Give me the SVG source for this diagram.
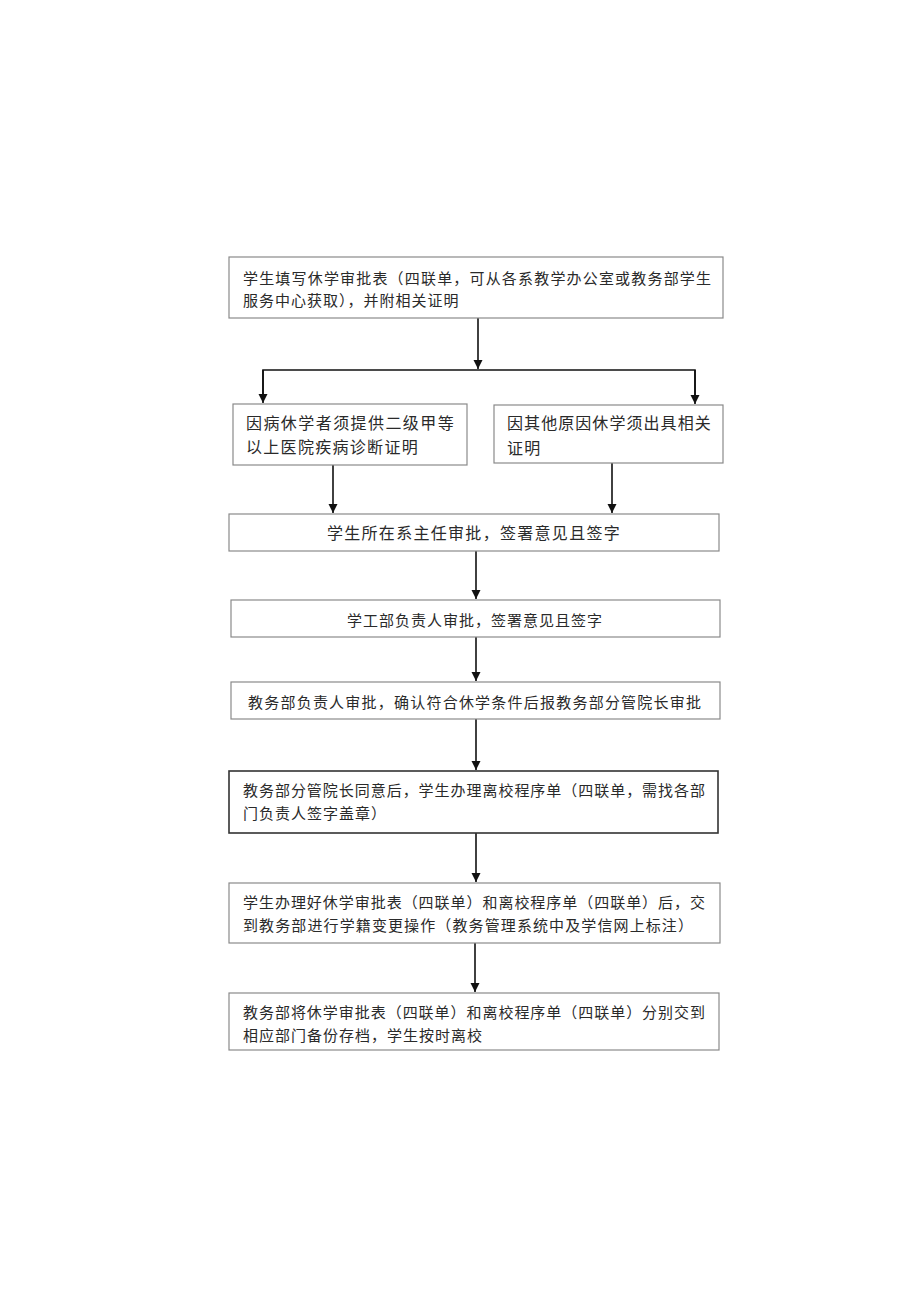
<svg xmlns="http://www.w3.org/2000/svg" width="920" height="1301" viewBox="0 0 920 1301">
<style>
.box{fill:#fff;stroke:#8a8a8a;stroke-width:1.2}
.dark{fill:#fff;stroke:#333;stroke-width:1.6}
.t{font-family:"Noto Sans CJK SC","Noto Sans CJK TC",sans-serif;font-size:15px;fill:#2a2a2a;letter-spacing:1px}
.t2{font-family:"Noto Sans CJK SC","Noto Sans CJK TC",sans-serif;font-size:16px;fill:#2a2a2a;letter-spacing:1.3px}
.c{text-anchor:middle}
.ln{fill:none;stroke:#111;stroke-width:1.6}
</style>
<defs>
<marker id="ah" markerUnits="userSpaceOnUse" markerWidth="10" markerHeight="10" refX="9" refY="5" orient="auto">
<path d="M0,0.5 L9,5 L0,9.5 Z" fill="#111"/>
</marker>
</defs>
<rect width="920" height="1301" fill="#fff"/>
<g id="connectors">
<line class="ln" x1="478" y1="318" x2="478" y2="369" marker-end="url(#ah)"/>
<polyline class="ln" points="263,400 263,370 695,370 695,400"/>
<line class="ln" x1="263" y1="370" x2="263" y2="403" marker-end="url(#ah)"/>
<line class="ln" x1="695" y1="370" x2="695" y2="404" marker-end="url(#ah)"/>
<line class="ln" x1="333" y1="465" x2="333" y2="513" marker-end="url(#ah)"/>
<line class="ln" x1="612" y1="463" x2="612" y2="513" marker-end="url(#ah)"/>
<line class="ln" x1="476" y1="551" x2="476" y2="599" marker-end="url(#ah)"/>
<line class="ln" x1="476" y1="637" x2="476" y2="681" marker-end="url(#ah)"/>
<line class="ln" x1="476" y1="719" x2="476" y2="770" marker-end="url(#ah)"/>
<line class="ln" x1="476" y1="833" x2="476" y2="882" marker-end="url(#ah)"/>
<line class="ln" x1="475" y1="943" x2="475" y2="992" marker-end="url(#ah)"/>
</g>
<g id="n1">
<rect class="box" x="229" y="257" width="494" height="61"/>
<text class="t" x="243" y="283.5" textLength="469" lengthAdjust="spacing">学生填写休学审批表（四联单，可从各系教学办公室或教务部学生</text>
<text class="t" x="243" y="305.5">服务中心获取），并附相关证明</text>
</g>
<g id="n2">
<rect class="box" x="233" y="404" width="234" height="61"/>
<text class="t2" x="246" y="429" textLength="209" lengthAdjust="spacing">因病休学者须提供二级甲等</text>
<text class="t2" x="246" y="453">以上医院疾病诊断证明</text>
</g>
<g id="n3">
<rect class="box" x="494" y="405" width="229" height="58"/>
<text class="t2" x="507" y="429" textLength="205" lengthAdjust="spacing">因其他原因休学须出具相关</text>
<text class="t2" x="507" y="454">证明</text>
</g>
<g id="n4">
<rect class="box" x="229" y="514" width="490" height="37"/>
<text class="t2 c" x="474" y="539">学生所在系主任审批，签署意见且签字</text>
</g>
<g id="n5">
<rect class="box" x="231" y="600" width="489" height="37"/>
<text class="t c" x="475" y="625.5">学工部负责人审批，签署意见且签字</text>
</g>
<g id="n6">
<rect class="box" x="231" y="682" width="489" height="37"/>
<text class="t" x="248" y="707.5" textLength="454" lengthAdjust="spacing">教务部负责人审批，确认符合休学条件后报教务部分管院长审批</text>
</g>
<g id="n7">
<rect class="dark" x="229" y="771" width="489" height="62"/>
<text class="t" x="243" y="795.5" textLength="463" lengthAdjust="spacing">教务部分管院长同意后，学生办理离校程序单（四联单，需找各部</text>
<text class="t" x="243" y="818.5">门负责人签字盖章）</text>
</g>
<g id="n8">
<rect class="box" x="229" y="883" width="491" height="60"/>
<text class="t" x="243" y="907.5" textLength="463" lengthAdjust="spacing">学生办理好休学审批表（四联单）和离校程序单（四联单）后，交</text>
<text class="t" x="243" y="930.5" textLength="451" lengthAdjust="spacing">到教务部进行学籍变更操作（教务管理系统中及学信网上标注）</text>
</g>
<g id="n9">
<rect class="box" x="229" y="993" width="490" height="57"/>
<text class="t" x="243" y="1017.5" textLength="463" lengthAdjust="spacing">教务部将休学审批表（四联单）和离校程序单（四联单）分别交到</text>
<text class="t" x="243" y="1040.5">相应部门备份存档，学生按时离校</text>
</g>
</svg>
